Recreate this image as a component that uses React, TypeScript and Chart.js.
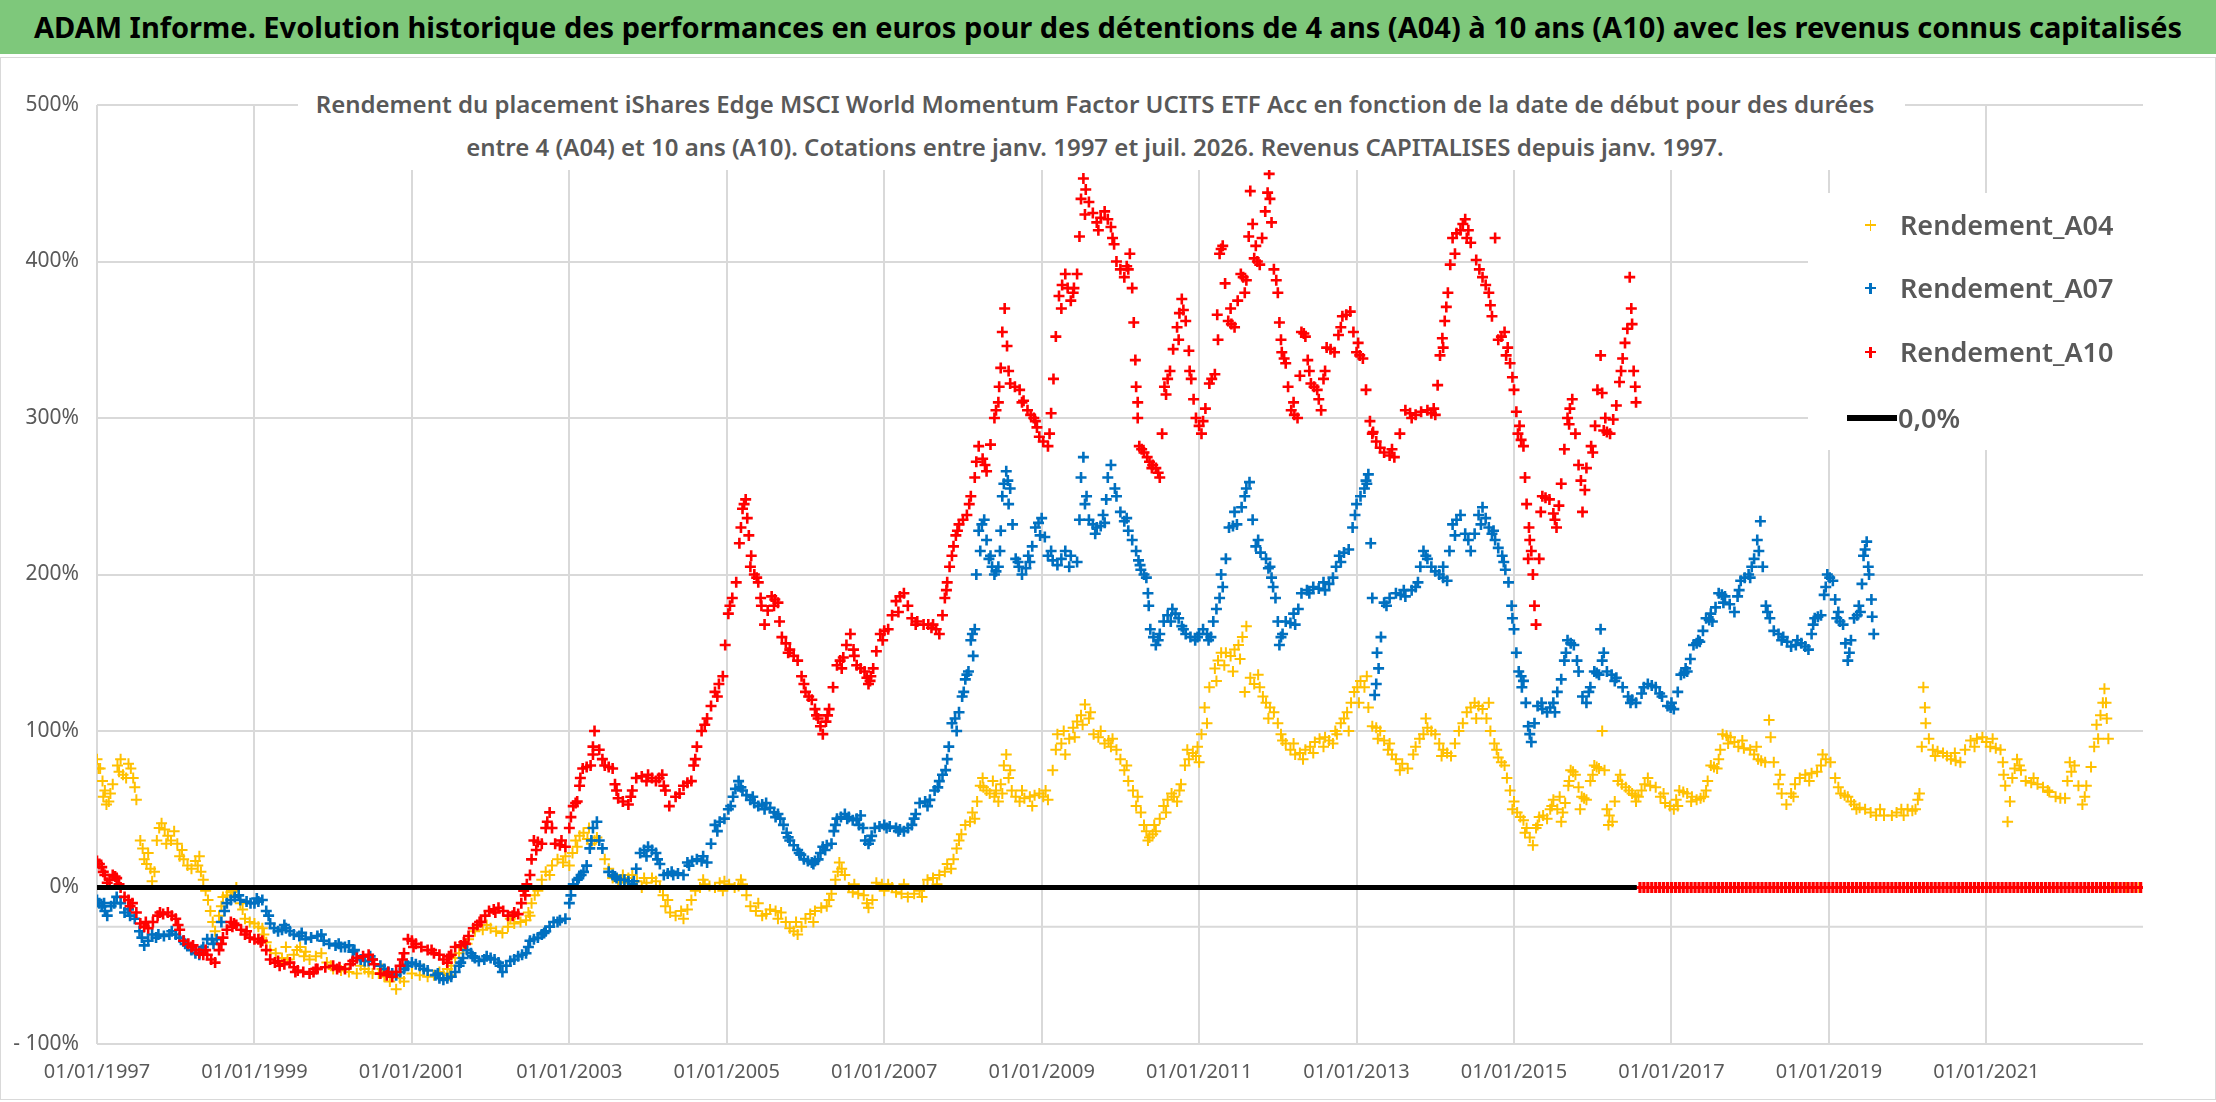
import { useEffect, useRef } from "react";
import { Chart, registerables } from "chart.js";

Chart.register(...registerables);

const FONT = "'Noto Sans', 'Open Sans', sans-serif";
const GRIS = "#595959";
const GRILLE = "#d9d9d9";

const TITRE =
  "ADAM Informe. Evolution historique des performances en euros pour des détentions de 4 ans (A04) à 10 ans (A10) avec les revenus connus capitalisés";
const SOUS_TITRE_1 =
  "Rendement du placement iShares Edge MSCI World Momentum Factor UCITS ETF Acc en fonction de la date de début pour des durées";
const SOUS_TITRE_2 =
  "entre 4 (A04) et 10 ans (A10). Cotations entre janv. 1997 et juil. 2026. Revenus CAPITALISES depuis janv. 1997.";

// axe des dates en années décimales
const X_MIN = 1997;
const X_MAX = 2022.99;
const X_TICK_YEARS = [1997, 1999, 2001, 2003, 2005, 2007, 2009, 2011, 2013, 2015, 2017, 2019, 2021];
const Y_MIN = -100;
const Y_MAX = 500;

// [date, rendement en %]
const A04: [number, number][] = [
  [1997.0, 82], [1997.04, 76], [1997.1, 62], [1997.15, 55], [1997.2, 66], [1997.26, 78], [1997.33, 72],
  [1997.4, 79], [1997.46, 70], [1997.5, 56], [1997.55, 30], [1997.6, 18], [1997.65, 22], [1997.7, 4],
  [1997.76, 30], [1997.82, 41], [1997.9, 33], [1997.98, 36], [1998.05, 20], [1998.15, 14], [1998.25, 17],
  [1998.32, 10], [1998.38, -2], [1998.44, -15], [1998.5, -28], [1998.6, -6], [1998.7, -3], [1998.77, 0],
  [1998.88, -20], [1999.0, -23], [1999.1, -26], [1999.2, -40], [1999.35, -45], [1999.5, -43], [1999.58, -38],
  [1999.7, -46], [1999.85, -42], [2000.0, -52], [2000.2, -54], [2000.4, -52], [2000.5, -55], [2000.65, -57],
  [2000.8, -65], [2001.0, -55], [2001.2, -57], [2001.35, -54], [2001.45, -52], [2001.55, -45], [2001.65, -38],
  [2001.8, -28], [2002.0, -26], [2002.15, -29], [2002.3, -23], [2002.45, -21], [2002.52, -10], [2002.6, -2],
  [2002.7, 10], [2002.85, 18], [2003.0, 14], [2003.08, 30], [2003.18, 35], [2003.28, 28], [2003.35, 32],
  [2003.55, 6], [2003.7, 3], [2003.8, 8], [2003.92, 0], [2004.05, 6], [2004.15, 0], [2004.22, -12],
  [2004.35, -18], [2004.5, -14], [2004.6, -2], [2004.72, 2], [2004.85, 0], [2004.97, 4], [2005.1, 0],
  [2005.2, 2], [2005.3, -12], [2005.45, -18], [2005.55, -14], [2005.69, -16], [2005.8, -26], [2005.9, -30],
  [2006.0, -20], [2006.12, -15], [2006.27, -12], [2006.38, 5], [2006.43, 16], [2006.5, 8], [2006.6, -3],
  [2006.74, -5], [2006.8, -13], [2006.9, 3], [2007.05, 2], [2007.15, -3], [2007.3, -6], [2007.45, -2],
  [2007.55, 5], [2007.7, 8], [2007.85, 12], [2007.92, 25], [2008.03, 40], [2008.15, 44], [2008.22, 65],
  [2008.3, 62], [2008.38, 68], [2008.45, 55], [2008.52, 78], [2008.55, 85], [2008.62, 62], [2008.72, 55],
  [2008.85, 58], [2008.97, 60], [2009.08, 56], [2009.2, 98], [2009.3, 85], [2009.4, 102], [2009.5, 110],
  [2009.55, 117], [2009.66, 98], [2009.8, 92], [2009.9, 95], [2010.0, 82], [2010.1, 68], [2010.22, 58],
  [2010.3, 40], [2010.37, 32], [2010.45, 36], [2010.55, 52], [2010.65, 60], [2010.72, 55], [2010.82, 78],
  [2010.92, 86], [2011.0, 80], [2011.07, 115], [2011.2, 140], [2011.28, 150], [2011.4, 148], [2011.5, 155],
  [2011.6, 167], [2011.65, 134], [2011.77, 128], [2011.85, 118], [2011.95, 112], [2012.0, 105], [2012.1, 92],
  [2012.22, 85], [2012.35, 88], [2012.47, 93], [2012.6, 96], [2012.7, 92], [2012.8, 105], [2012.88, 112],
  [2012.97, 125], [2013.05, 132], [2013.1, 128], [2013.2, 103], [2013.3, 100], [2013.4, 88], [2013.5, 82],
  [2013.65, 76], [2013.8, 95], [2013.9, 102], [2014.0, 98], [2014.1, 88], [2014.2, 84], [2014.4, 112],
  [2014.5, 118], [2014.6, 114], [2014.7, 100], [2014.8, 83], [2014.88, 78], [2014.95, 62], [2015.04, 48],
  [2015.12, 43], [2015.2, 32], [2015.24, 27], [2015.32, 45], [2015.42, 44], [2015.5, 56], [2015.6, 42],
  [2015.65, 54], [2015.72, 75], [2015.78, 72], [2015.86, 58], [2015.92, 56], [2016.02, 78], [2016.08, 76],
  [2016.12, 100], [2016.18, 50], [2016.25, 42], [2016.32, 68], [2016.42, 64], [2016.5, 60], [2016.58, 58],
  [2016.66, 66], [2016.8, 64], [2016.92, 54], [2017.03, 50], [2017.1, 62], [2017.2, 60], [2017.32, 56],
  [2017.41, 58], [2017.5, 78], [2017.58, 76], [2017.65, 98], [2017.75, 96], [2017.85, 90], [2018.0, 88],
  [2018.1, 82], [2018.19, 80], [2018.24, 107], [2018.36, 66], [2018.46, 53], [2018.57, 66], [2018.7, 72],
  [2018.85, 74], [2018.96, 82], [2019.02, 80], [2019.15, 60], [2019.24, 58], [2019.32, 53], [2019.46, 50],
  [2019.6, 46], [2019.8, 46], [2019.92, 50], [2020.1, 50], [2020.15, 60], [2020.2, 128], [2020.23, 105],
  [2020.32, 88], [2020.45, 86], [2020.55, 82], [2020.67, 80], [2020.8, 94], [2020.95, 96], [2021.05, 90],
  [2021.18, 88], [2021.24, 65], [2021.27, 42], [2021.33, 70], [2021.39, 82], [2021.5, 68], [2021.65, 66],
  [2021.72, 64], [2021.88, 58], [2022.0, 57], [2022.06, 80], [2022.12, 78], [2022.22, 53], [2022.33, 77],
  [2022.4, 104], [2022.45, 110], [2022.5, 127], [2022.55, 95],
  [2022.62, 0], [2022.7, 0], [2022.78, 0], [2022.86, 0], [2022.94, 0],
];

// relevés complémentaires : épaisseur du nuage de points
const A04_BIS: [number, number][] = [
  [1997.02, 76], [1997.08, 58], [1997.12, 53], [1997.3, 82], [1997.37, 70], [1997.43, 76], [1997.58, 25],
  [1997.63, 15], [1997.73, 10], [1997.79, 38], [1997.86, 37], [1997.94, 30], [1998.02, 28], [1998.1, 18],
  [1998.2, 12], [1998.28, 14], [1998.35, 5], [1998.41, -8], [1998.47, -22], [1998.55, -18], [1998.65, -5],
  [1998.73, -2], [1998.82, -10], [1998.94, -22], [1999.05, -25], [1999.15, -35], [1999.27, -42], [1999.42, -46],
  [1999.54, -40], [1999.63, -44], [1999.78, -44], [1999.92, -48], [2000.1, -53], [2000.3, -55], [2000.45, -54],
  [2000.58, -55], [2000.72, -60], [2000.9, -60], [2001.1, -56], [2001.28, -56], [2001.4, -55], [2001.5, -50],
  [2001.6, -42], [2001.72, -33], [2001.9, -27], [2002.07, -28], [2002.22, -25], [2002.38, -22], [2002.48, -16],
  [2002.56, -5], [2002.65, 5], [2002.78, 14], [2002.92, 16], [2003.04, 22], [2003.13, 33], [2003.23, 31],
  [2003.32, 30], [2003.45, 18], [2003.62, 4], [2003.75, 6], [2003.86, 4], [2003.98, 3], [2004.1, 4],
  [2004.19, -5], [2004.28, -16], [2004.42, -15], [2004.55, -8], [2004.66, 0], [2004.78, 1], [2004.91, 3],
  [2005.03, 2], [2005.15, 1], [2005.25, -5], [2005.37, -15], [2005.5, -17], [2005.62, -15], [2005.75, -22],
  [2005.85, -28], [2005.95, -25], [2006.06, -17], [2006.2, -13], [2006.33, -4], [2006.46, 12], [2006.55, 0],
  [2006.67, -4], [2006.85, -8], [2006.97, 2], [2007.1, 0], [2007.22, -4], [2007.38, -4], [2007.5, 1],
  [2007.62, 6], [2007.77, 10], [2007.88, 18], [2007.98, 34], [2008.09, 42], [2008.18, 55], [2008.26, 64],
  [2008.34, 60], [2008.42, 62], [2008.48, 66], [2008.58, 70], [2008.67, 58], [2008.78, 57], [2008.91, 59],
  [2009.02, 58], [2009.14, 75], [2009.25, 92], [2009.35, 95], [2009.45, 106], [2009.6, 108], [2009.72, 96],
  [2009.85, 94], [2009.95, 88], [2010.05, 75], [2010.16, 62], [2010.26, 48], [2010.33, 36], [2010.41, 34],
  [2010.5, 44], [2010.6, 56], [2010.68, 58], [2010.77, 66], [2010.87, 82], [2010.96, 84], [2011.03, 98],
  [2011.13, 128], [2011.24, 145], [2011.34, 150], [2011.45, 152], [2011.55, 160], [2011.7, 130], [2011.81, 122],
  [2011.9, 115], [2012.04, 98], [2012.16, 88], [2012.28, 86], [2012.41, 90], [2012.53, 95], [2012.65, 94],
  [2012.75, 98], [2012.84, 108], [2012.93, 118], [2013.01, 128], [2013.15, 115], [2013.25, 102], [2013.35, 94],
  [2013.45, 85], [2013.58, 79], [2013.72, 85], [2013.85, 98], [2013.95, 100], [2014.05, 92], [2014.15, 86],
  [2014.3, 100], [2014.45, 115], [2014.55, 116], [2014.65, 108], [2014.75, 92], [2014.84, 80], [2014.91, 70],
  [2015.0, 55], [2015.08, 45], [2015.16, 38], [2015.28, 38], [2015.37, 46], [2015.46, 50], [2015.55, 50],
  [2015.62, 48], [2015.69, 65], [2015.75, 74], [2015.82, 64], [2015.89, 57], [2015.97, 68], [2016.05, 77],
  [2016.15, 75], [2016.21, 46], [2016.28, 55], [2016.37, 66], [2016.46, 62], [2016.54, 59], [2016.62, 62],
  [2016.73, 65], [2016.86, 58], [2016.98, 52], [2017.06, 56], [2017.15, 61], [2017.26, 58], [2017.37, 57],
  [2017.46, 68], [2017.54, 77], [2017.62, 88], [2017.7, 97], [2017.8, 93], [2017.92, 89], [2018.05, 85],
  [2018.14, 81], [2018.3, 80], [2018.4, 60], [2018.52, 60], [2018.63, 70], [2018.78, 73], [2018.9, 78],
  [2019.08, 70], [2019.2, 59], [2019.28, 55], [2019.39, 51], [2019.53, 48], [2019.7, 46], [2019.86, 48],
  [2020.0, 50], [2020.06, 49], [2020.18, 90], [2020.27, 95], [2020.38, 87], [2020.5, 84], [2020.61, 81],
  [2020.73, 88], [2020.88, 95], [2021.0, 93], [2021.12, 89], [2021.21, 80], [2021.3, 55], [2021.36, 76],
  [2021.44, 75], [2021.57, 67], [2021.8, 61], [2021.94, 57], [2022.03, 68], [2022.17, 65], [2022.27, 65],
  [2022.37, 90], [2022.48, 118], [2022.53, 108],
];

// bords du nuage relevés à part
const A04_TER: [number, number][] = [
  [1997.07, 68], [1997.17, 60], [1997.28, 74], [1997.48, 64], [1997.68, 12], [1997.88, 28], [1998.08, 24],
  [1998.3, 20], [1998.58, -12], [1998.85, -14], [1999.12, -30], [1999.4, -38], [1999.65, -41], [1999.97, -50],
  [2000.35, -50], [2000.62, -52], [2000.85, -58], [2001.15, -52], [2001.48, -56], [2001.7, -36], [2001.95, -24],
  [2002.25, -20], [2002.5, -18], [2002.75, 8], [2002.95, 20], [2003.1, 26], [2003.25, 38], [2003.5, 12],
  [2003.68, 8], [2003.95, 6], [2004.25, -8], [2004.45, -20], [2004.7, 5], [2004.95, -2], [2005.18, 5],
  [2005.4, -10], [2005.65, -20], [2005.88, -22], [2006.1, -22], [2006.3, -8], [2006.41, 10], [2006.62, 2],
  [2006.78, -10], [2007.0, -2], [2007.25, 2], [2007.48, -6], [2007.67, 2], [2007.8, 15], [2007.95, 30],
  [2008.12, 48], [2008.25, 70], [2008.4, 58], [2008.5, 60], [2008.6, 75], [2008.75, 62], [2008.88, 52],
  [2009.05, 62], [2009.18, 88], [2009.28, 100], [2009.42, 96], [2009.52, 104], [2009.62, 112], [2009.75, 100],
  [2009.88, 90], [2010.08, 78], [2010.2, 52], [2010.35, 30], [2010.43, 40], [2010.58, 48], [2010.75, 62],
  [2010.85, 88], [2010.98, 90], [2011.1, 105], [2011.22, 132], [2011.32, 142], [2011.43, 138], [2011.52, 146],
  [2011.58, 125], [2011.75, 136], [2011.88, 108], [2012.06, 94], [2012.2, 92], [2012.32, 82], [2012.45, 86],
  [2012.58, 90], [2012.73, 100], [2012.9, 100], [2013.03, 118], [2013.13, 135], [2013.27, 95], [2013.42, 92],
  [2013.55, 75], [2013.75, 90], [2013.88, 108], [2014.08, 84], [2014.25, 92], [2014.35, 105], [2014.52, 108],
  [2014.68, 118], [2014.78, 88], [2014.98, 50], [2015.14, 35], [2015.3, 40], [2015.48, 52], [2015.58, 58],
  [2015.7, 68], [2015.84, 50], [2016.0, 72], [2016.2, 40], [2016.35, 72], [2016.55, 55], [2016.7, 70],
  [2016.9, 60], [2017.08, 52], [2017.25, 55], [2017.44, 62], [2017.6, 82], [2017.72, 92], [2017.9, 94],
  [2018.08, 90], [2018.26, 96], [2018.38, 72], [2018.55, 58], [2018.75, 68], [2018.92, 85], [2019.12, 64],
  [2019.35, 50], [2019.65, 50], [2019.95, 46], [2020.13, 56], [2020.22, 115], [2020.35, 84], [2020.6, 86],
  [2020.85, 90], [2021.08, 95], [2021.22, 72], [2021.42, 78], [2021.6, 70], [2021.78, 62], [2022.08, 74],
  [2022.25, 58], [2022.42, 95], [2022.52, 118],
];

const A07: [number, number][] = [
  [1997.0, -8], [1997.06, -12], [1997.13, -18], [1997.25, -6], [1997.35, -16], [1997.48, -20], [1997.6, -37],
  [1997.7, -30], [1997.85, -31], [1998.0, -30], [1998.1, -34], [1998.2, -40], [1998.3, -43], [1998.4, -33],
  [1998.52, -33], [1998.65, -10], [1998.75, -6], [1998.9, -9], [1999.0, -10], [1999.1, -8], [1999.2, -23],
  [1999.3, -28], [1999.4, -26], [1999.5, -30], [1999.65, -33], [1999.8, -31], [1999.95, -36], [2000.1, -38],
  [2000.2, -37], [2000.3, -45], [2000.4, -47], [2000.5, -46], [2000.7, -54], [2000.8, -56], [2000.9, -52],
  [2001.0, -48], [2001.1, -50], [2001.3, -56], [2001.4, -59], [2001.5, -57], [2001.6, -50], [2001.7, -40],
  [2001.75, -42], [2001.85, -47], [2002.0, -45], [2002.1, -48], [2002.15, -54], [2002.35, -44], [2002.45, -42],
  [2002.5, -34], [2002.6, -32], [2002.7, -28], [2002.8, -22], [2002.95, -20], [2003.05, 2], [2003.15, 8],
  [2003.22, 14], [2003.3, 38], [2003.35, 42], [2003.5, 10], [2003.6, 6], [2003.7, 5], [2003.8, 2],
  [2003.9, 22], [2004.0, 26], [2004.1, 22], [2004.2, 8], [2004.3, 10], [2004.45, 8], [2004.5, 16],
  [2004.62, 18], [2004.75, 16], [2004.85, 40], [2004.97, 44], [2005.08, 58], [2005.15, 68], [2005.2, 62],
  [2005.3, 56], [2005.4, 52], [2005.5, 54], [2005.6, 48], [2005.65, 47], [2005.72, 40], [2005.8, 30],
  [2005.9, 24], [2005.98, 18], [2006.08, 16], [2006.16, 18], [2006.22, 26], [2006.33, 28], [2006.4, 44],
  [2006.5, 47], [2006.6, 43], [2006.7, 46], [2006.76, 30], [2006.8, 28], [2006.88, 38], [2007.0, 40],
  [2007.15, 38], [2007.25, 36], [2007.35, 40], [2007.45, 54], [2007.58, 56], [2007.7, 68], [2007.78, 75],
  [2007.86, 105], [2007.95, 112], [2008.03, 133], [2008.07, 138], [2008.1, 158], [2008.15, 165], [2008.2, 228],
  [2008.27, 235], [2008.33, 210], [2008.4, 200], [2008.45, 205], [2008.5, 250], [2008.55, 266], [2008.6, 255],
  [2008.67, 210], [2008.75, 200], [2008.85, 208], [2008.92, 230], [2009.0, 236], [2009.08, 212], [2009.2, 206],
  [2009.3, 215], [2009.45, 208], [2009.5, 262], [2009.53, 275], [2009.6, 235], [2009.7, 230], [2009.8, 233],
  [2009.84, 262], [2009.88, 270], [2010.0, 240], [2010.1, 228], [2010.2, 215], [2010.26, 203], [2010.33, 198],
  [2010.38, 165], [2010.45, 155], [2010.55, 170], [2010.66, 178], [2010.74, 172], [2010.83, 162], [2010.95, 158],
  [2011.05, 165], [2011.15, 160], [2011.22, 178], [2011.3, 192], [2011.38, 230], [2011.48, 232], [2011.6, 255],
  [2011.64, 259], [2011.72, 218], [2011.85, 210], [2011.92, 198], [2011.97, 185], [2012.02, 155], [2012.1, 170],
  [2012.22, 168], [2012.3, 188], [2012.45, 192], [2012.6, 190], [2012.7, 198], [2012.78, 212], [2012.9, 216],
  [2013.0, 245], [2013.1, 255], [2013.15, 264], [2013.2, 185], [2013.23, 123], [2013.28, 140], [2013.35, 182],
  [2013.5, 188], [2013.62, 186], [2013.78, 195], [2013.85, 215], [2013.95, 205], [2014.05, 200], [2014.15, 196],
  [2014.22, 232], [2014.32, 238], [2014.45, 215], [2014.55, 238], [2014.6, 243], [2014.68, 230], [2014.76, 222],
  [2014.85, 212], [2014.93, 195], [2015.0, 165], [2015.06, 138], [2015.12, 132], [2015.18, 103], [2015.22, 93],
  [2015.3, 116], [2015.42, 112], [2015.5, 118], [2015.6, 133], [2015.68, 158], [2015.76, 155], [2015.87, 122],
  [2015.92, 118], [2016.02, 138], [2016.08, 136], [2016.1, 165], [2016.18, 138], [2016.3, 134], [2016.45, 122],
  [2016.55, 118], [2016.7, 130], [2016.8, 128], [2016.95, 116], [2017.03, 114], [2017.12, 136], [2017.2, 138],
  [2017.28, 155], [2017.36, 157], [2017.44, 172], [2017.52, 170], [2017.6, 188], [2017.68, 186], [2017.8, 176],
  [2017.88, 196], [2017.98, 200], [2018.05, 210], [2018.13, 234], [2018.2, 180], [2018.3, 164], [2018.42, 160],
  [2018.52, 154], [2018.65, 156], [2018.74, 152], [2018.82, 172], [2018.9, 174], [2018.98, 200], [2019.05, 196],
  [2019.1, 172], [2019.18, 168], [2019.24, 145], [2019.32, 172], [2019.4, 176], [2019.44, 212], [2019.48, 221],
  [2019.54, 184], [2019.57, 162],
];

const A07_BIS: [number, number][] = [
  [1997.03, -10], [1997.1, -15], [1997.18, -12], [1997.3, -10], [1997.42, -18], [1997.54, -28], [1997.65, -34],
  [1997.78, -30], [1997.92, -30], [1998.05, -32], [1998.15, -37], [1998.25, -42], [1998.35, -38], [1998.46, -33],
  [1998.58, -22], [1998.7, -8], [1998.82, -8], [1998.95, -10], [1999.05, -9], [1999.15, -15], [1999.25, -26],
  [1999.35, -27], [1999.45, -28], [1999.57, -31], [1999.72, -32], [1999.88, -34], [2000.03, -37], [2000.15, -38],
  [2000.25, -41], [2000.35, -46], [2000.45, -47], [2000.6, -50], [2000.75, -55], [2000.85, -54], [2000.95, -50],
  [2001.05, -49], [2001.2, -53], [2001.35, -58], [2001.45, -58], [2001.55, -54], [2001.65, -45], [2001.8, -45],
  [2001.92, -46], [2002.05, -46], [2002.2, -50], [2002.3, -46], [2002.4, -43], [2002.55, -33], [2002.65, -30],
  [2002.75, -25], [2002.88, -21], [2003.0, -10], [2003.1, 5], [2003.18, 10], [2003.26, 25], [2003.42, 25],
  [2003.55, 8], [2003.65, 5], [2003.75, 4], [2003.85, 12], [2003.95, 24], [2004.05, 24], [2004.15, 15],
  [2004.25, 9], [2004.38, 9], [2004.56, 17], [2004.68, 17], [2004.8, 28], [2004.91, 42], [2005.02, 50],
  [2005.11, 63], [2005.25, 59], [2005.35, 54], [2005.45, 53], [2005.55, 51], [2005.68, 44], [2005.76, 35],
  [2005.85, 27], [2005.94, 21], [2006.03, 17], [2006.12, 17], [2006.19, 22], [2006.27, 27], [2006.36, 36],
  [2006.45, 45], [2006.55, 45], [2006.65, 44], [2006.73, 38], [2006.84, 33], [2006.94, 39], [2007.07, 39],
  [2007.2, 37], [2007.3, 38], [2007.4, 47], [2007.52, 55], [2007.64, 62], [2007.74, 72], [2007.82, 90],
  [2007.9, 108], [2007.99, 122], [2008.05, 136], [2008.12, 162], [2008.17, 200], [2008.24, 232], [2008.3, 222],
  [2008.37, 205], [2008.42, 202], [2008.48, 228], [2008.52, 258], [2008.57, 260], [2008.63, 232], [2008.71, 205],
  [2008.8, 204], [2008.88, 218], [2008.96, 233], [2009.04, 224], [2009.14, 209], [2009.25, 210], [2009.37, 212],
  [2009.48, 235], [2009.57, 250], [2009.65, 232], [2009.75, 231], [2009.82, 248], [2009.93, 255], [2010.05, 234],
  [2010.15, 222], [2010.23, 209], [2010.3, 200], [2010.36, 180], [2010.42, 160], [2010.5, 162], [2010.6, 174],
  [2010.7, 175], [2010.78, 167], [2010.89, 160], [2011.0, 162], [2011.1, 162], [2011.18, 170], [2011.26, 185],
  [2011.34, 210], [2011.43, 231], [2011.54, 243], [2011.68, 235], [2011.78, 214], [2011.88, 204], [2011.94, 192],
  [2012.0, 170], [2012.06, 162], [2012.16, 169], [2012.26, 178], [2012.37, 190], [2012.52, 191], [2012.65, 194],
  [2012.74, 205], [2012.84, 214], [2012.95, 230], [2013.05, 250], [2013.12, 260], [2013.18, 220], [2013.25, 130],
  [2013.31, 160], [2013.42, 185], [2013.56, 187], [2013.7, 190], [2013.81, 205], [2013.9, 210], [2014.0, 202],
  [2014.1, 198], [2014.18, 215], [2014.27, 235], [2014.38, 226], [2014.5, 226], [2014.64, 236], [2014.72, 226],
  [2014.8, 217], [2014.89, 203], [2014.97, 180], [2015.03, 150], [2015.09, 135], [2015.15, 118], [2015.26, 105],
  [2015.36, 114], [2015.46, 115], [2015.55, 125], [2015.64, 145], [2015.72, 156], [2015.82, 138], [2015.97, 128],
  [2016.05, 137], [2016.14, 150], [2016.24, 136], [2016.38, 128], [2016.5, 120], [2016.62, 124], [2016.75, 129],
  [2016.88, 122], [2016.99, 115], [2017.08, 125], [2017.16, 137], [2017.24, 146], [2017.32, 156], [2017.4, 164],
  [2017.48, 171], [2017.56, 179], [2017.64, 187], [2017.74, 181], [2017.84, 186], [2017.93, 198], [2018.02, 205],
  [2018.09, 222], [2018.16, 205], [2018.25, 172], [2018.36, 162], [2018.47, 157], [2018.58, 155], [2018.7, 154],
  [2018.78, 162], [2018.86, 173], [2018.94, 187], [2019.01, 198], [2019.08, 184], [2019.14, 170], [2019.21, 156],
  [2019.28, 158], [2019.36, 174], [2019.42, 194], [2019.46, 216], [2019.51, 200], [2019.55, 173],
];

const A07_TER: [number, number][] = [
  [1997.09, -10], [1997.22, -10], [1997.4, -14], [1997.57, -32], [1997.75, -32], [1997.95, -28], [1998.12, -36],
  [1998.33, -40], [1998.48, -36], [1998.62, -15], [1998.8, -5], [1999.03, -7], [1999.18, -18], [1999.38, -24],
  [1999.6, -29], [1999.85, -30], [2000.07, -36], [2000.27, -40], [2000.47, -44], [2000.65, -52], [2000.92, -50],
  [2001.15, -52], [2001.33, -55], [2001.62, -48], [2001.77, -44], [2001.95, -44], [2002.12, -50], [2002.25, -47],
  [2002.48, -38], [2002.68, -29], [2002.85, -22], [2003.02, -5], [2003.12, 6], [2003.28, 30], [2003.38, 30],
  [2003.58, 7], [2003.82, 4], [2003.98, 20], [2004.12, 18], [2004.32, 8], [2004.52, 14], [2004.7, 20],
  [2004.88, 36], [2005.05, 52], [2005.18, 64], [2005.33, 58], [2005.48, 50], [2005.62, 45], [2005.78, 32],
  [2005.92, 22], [2006.1, 15], [2006.25, 24], [2006.38, 40], [2006.53, 44], [2006.68, 40], [2006.82, 30],
  [2007.03, 38], [2007.18, 36], [2007.38, 44], [2007.55, 52], [2007.68, 64], [2007.8, 82], [2007.92, 100],
  [2008.01, 125], [2008.13, 148], [2008.22, 215], [2008.35, 212], [2008.47, 215], [2008.58, 245], [2008.7, 208],
  [2008.83, 212], [2008.98, 225], [2009.12, 215], [2009.35, 205], [2009.55, 245], [2009.68, 226], [2009.78, 238],
  [2009.95, 250], [2010.08, 236], [2010.25, 206], [2010.35, 188], [2010.48, 158], [2010.64, 170], [2010.8, 165],
  [2010.98, 160], [2011.12, 158], [2011.28, 200], [2011.45, 240], [2011.58, 250], [2011.75, 222], [2011.9, 205],
  [2012.04, 160], [2012.2, 175], [2012.4, 188], [2012.58, 195], [2012.8, 208], [2012.98, 238], [2013.13, 258],
  [2013.26, 150], [2013.38, 180], [2013.6, 190], [2013.75, 192], [2013.88, 212], [2014.1, 205], [2014.25, 225],
  [2014.42, 222], [2014.58, 232], [2014.74, 228], [2014.87, 208], [2014.98, 172], [2015.1, 128], [2015.2, 98],
  [2015.35, 118], [2015.52, 112], [2015.66, 150], [2015.8, 145], [2015.95, 125], [2016.12, 145], [2016.28, 132],
  [2016.48, 118], [2016.65, 128], [2016.85, 124], [2017.0, 118], [2017.18, 140], [2017.34, 158], [2017.5, 175],
  [2017.66, 182], [2017.86, 190], [2018.0, 198], [2018.11, 215], [2018.22, 176], [2018.4, 158], [2018.6, 158],
  [2018.8, 168], [2018.96, 192], [2019.12, 176], [2019.26, 150], [2019.38, 180], [2019.5, 205],
];

const A10: [number, number][] = [
  [1997.0, 17], [1997.06, 13], [1997.13, 3], [1997.2, 8], [1997.25, 6], [1997.35, -6], [1997.45, -10],
  [1997.55, -23], [1997.65, -26], [1997.77, -18], [1997.9, -16], [1998.0, -20], [1998.1, -34], [1998.22, -37],
  [1998.3, -42], [1998.4, -43], [1998.5, -48], [1998.6, -32], [1998.7, -22], [1998.77, -24], [1998.88, -30],
  [1999.0, -33], [1999.1, -34], [1999.2, -46], [1999.32, -50], [1999.45, -48], [1999.55, -53], [1999.7, -55],
  [1999.8, -52], [2000.0, -50], [2000.15, -52], [2000.3, -45], [2000.45, -43], [2000.6, -55], [2000.75, -57],
  [2000.85, -50], [2000.95, -33], [2001.05, -36], [2001.2, -40], [2001.35, -43], [2001.45, -48], [2001.55, -38],
  [2001.68, -36], [2001.78, -26], [2001.88, -22], [2001.98, -15], [2002.1, -13], [2002.22, -18], [2002.35, -17],
  [2002.42, -2], [2002.5, 8], [2002.55, 30], [2002.65, 28], [2002.75, 48], [2002.82, 28], [2002.95, 26],
  [2003.05, 52], [2003.1, 55], [2003.17, 76], [2003.27, 78], [2003.32, 100], [2003.45, 78], [2003.55, 76],
  [2003.62, 57], [2003.75, 53], [2003.85, 70], [2004.0, 72], [2004.1, 68], [2004.18, 72], [2004.27, 52],
  [2004.45, 65], [2004.55, 68], [2004.62, 90], [2004.75, 108], [2004.85, 125], [2004.95, 135], [2005.02, 175],
  [2005.12, 195], [2005.2, 242], [2005.24, 248], [2005.28, 225], [2005.35, 200], [2005.4, 195], [2005.48, 168],
  [2005.57, 186], [2005.65, 182], [2005.7, 160], [2005.8, 152], [2005.9, 145], [2006.0, 125], [2006.08, 120],
  [2006.16, 108], [2006.22, 98], [2006.3, 114], [2006.4, 142], [2006.48, 147], [2006.57, 162], [2006.65, 142],
  [2006.75, 138], [2006.8, 130], [2006.86, 140], [2006.95, 162], [2007.05, 165], [2007.15, 183], [2007.25, 188],
  [2007.35, 172], [2007.5, 168], [2007.62, 168], [2007.7, 162], [2007.77, 185], [2007.83, 205], [2007.88, 218],
  [2007.95, 232], [2008.05, 238], [2008.15, 262], [2008.2, 282], [2008.3, 266], [2008.4, 300], [2008.45, 310],
  [2008.5, 355], [2008.53, 370], [2008.6, 322], [2008.72, 318], [2008.82, 305], [2008.9, 300], [2008.97, 288],
  [2009.08, 282], [2009.15, 325], [2009.22, 378], [2009.3, 392], [2009.37, 375], [2009.45, 392], [2009.5, 440],
  [2009.53, 453], [2009.6, 438], [2009.7, 425], [2009.8, 432], [2009.88, 422], [2009.95, 400], [2010.05, 390],
  [2010.12, 405], [2010.17, 361], [2010.19, 337], [2010.2, 320], [2010.24, 282], [2010.3, 278], [2010.37, 272],
  [2010.45, 268], [2010.5, 262], [2010.56, 320], [2010.63, 330], [2010.72, 358], [2010.78, 376], [2010.83, 362],
  [2010.9, 325], [2010.96, 300], [2011.03, 290], [2011.13, 322], [2011.2, 328], [2011.26, 405], [2011.3, 410],
  [2011.37, 362], [2011.45, 358], [2011.53, 392], [2011.6, 388], [2011.65, 445], [2011.7, 402], [2011.77, 398],
  [2011.84, 432], [2011.89, 456], [2011.95, 395], [2012.0, 380], [2012.05, 342], [2012.1, 335], [2012.17, 305],
  [2012.25, 300], [2012.3, 355], [2012.35, 352], [2012.42, 322], [2012.5, 318], [2012.55, 305], [2012.62, 345],
  [2012.72, 342], [2012.82, 365], [2012.92, 368], [2013.0, 342], [2013.08, 338], [2013.17, 298], [2013.25, 285],
  [2013.35, 278], [2013.48, 275], [2013.62, 305], [2013.75, 302], [2013.9, 305], [2014.0, 302], [2014.06, 340],
  [2014.12, 362], [2014.16, 380], [2014.22, 415], [2014.32, 420], [2014.38, 427], [2014.45, 412], [2014.6, 390],
  [2014.68, 380], [2014.76, 415], [2014.8, 350], [2014.88, 355], [2014.95, 335], [2015.0, 318], [2015.05, 290],
  [2015.12, 282], [2015.16, 245], [2015.18, 210], [2015.2, 222], [2015.24, 200], [2015.26, 180], [2015.28, 168],
  [2015.36, 250], [2015.45, 248], [2015.54, 230], [2015.6, 258], [2015.68, 300], [2015.74, 312], [2015.82, 270],
  [2015.87, 240], [2015.92, 268], [2016.03, 295], [2016.1, 340], [2016.14, 292], [2016.22, 290], [2016.3, 308],
  [2016.38, 338], [2016.44, 357], [2016.47, 390], [2016.52, 330], [2016.55, 310],
];

const A10_BIS: [number, number][] = [
  [1997.03, 15], [1997.1, 8], [1997.16, 5], [1997.23, 7], [1997.3, 0], [1997.4, -8], [1997.5, -16],
  [1997.6, -25], [1997.71, -22], [1997.84, -17], [1997.95, -18], [1998.05, -27], [1998.16, -36], [1998.26, -40],
  [1998.35, -43], [1998.45, -46], [1998.55, -40], [1998.65, -27], [1998.74, -23], [1998.83, -27], [1998.94, -32],
  [1999.05, -33], [1999.15, -40], [1999.26, -48], [1999.38, -49], [1999.5, -51], [1999.62, -54], [1999.75, -54],
  [1999.9, -51], [2000.08, -51], [2000.22, -49], [2000.38, -44], [2000.52, -49], [2000.68, -56], [2000.8, -54],
  [2000.9, -42], [2001.0, -34], [2001.12, -38], [2001.28, -42], [2001.4, -46], [2001.5, -43], [2001.62, -37],
  [2001.72, -31], [2001.83, -24], [2001.93, -18], [2002.04, -14], [2002.16, -15], [2002.28, -18], [2002.39, -10],
  [2002.46, 2], [2002.52, 18], [2002.6, 29], [2002.7, 38], [2002.78, 38], [2002.88, 27], [2003.0, 38],
  [2003.08, 54], [2003.13, 65], [2003.22, 77], [2003.3, 90], [2003.38, 88], [2003.5, 77], [2003.58, 66],
  [2003.68, 55], [2003.8, 62], [2003.92, 71], [2004.05, 70], [2004.14, 70], [2004.22, 62], [2004.35, 58],
  [2004.5, 67], [2004.58, 78], [2004.68, 100], [2004.8, 116], [2004.9, 130], [2004.98, 155], [2005.07, 185],
  [2005.16, 220], [2005.22, 245], [2005.26, 236], [2005.31, 212], [2005.38, 198], [2005.44, 180], [2005.52, 177],
  [2005.61, 184], [2005.67, 170], [2005.75, 156], [2005.85, 148], [2005.95, 135], [2006.04, 122], [2006.12, 114],
  [2006.19, 103], [2006.26, 106], [2006.35, 128], [2006.44, 145], [2006.52, 155], [2006.61, 152], [2006.7, 140],
  [2006.78, 134], [2006.83, 135], [2006.9, 151], [2007.0, 164], [2007.1, 174], [2007.2, 186], [2007.3, 180],
  [2007.42, 170], [2007.56, 168], [2007.66, 165], [2007.74, 174], [2007.8, 195], [2007.86, 212], [2007.91, 225],
  [2008.0, 235], [2008.1, 250], [2008.17, 272], [2008.25, 274], [2008.35, 283], [2008.42, 305], [2008.48, 332],
  [2008.56, 346], [2008.66, 320], [2008.77, 311], [2008.86, 302], [2008.94, 294], [2009.02, 285], [2009.12, 303],
  [2009.18, 352], [2009.26, 385], [2009.33, 383], [2009.41, 383], [2009.48, 416], [2009.56, 446], [2009.65, 431],
  [2009.75, 428], [2009.84, 427], [2009.92, 411], [2010.0, 395], [2010.08, 397], [2010.15, 383], [2010.22, 300],
  [2010.27, 280], [2010.34, 275], [2010.41, 270], [2010.48, 265], [2010.53, 290], [2010.6, 325], [2010.67, 344],
  [2010.75, 367], [2010.8, 369], [2010.87, 343], [2010.93, 312], [2011.0, 295], [2011.08, 306], [2011.16, 325],
  [2011.23, 366], [2011.28, 408], [2011.33, 386], [2011.41, 360], [2011.49, 375], [2011.56, 390], [2011.63, 416],
  [2011.68, 424], [2011.74, 400], [2011.8, 415], [2011.87, 444], [2011.92, 425], [2011.98, 388], [2012.02, 361],
  [2012.08, 338], [2012.13, 320], [2012.21, 302], [2012.28, 327], [2012.33, 354], [2012.38, 337], [2012.46, 320],
  [2012.52, 312], [2012.58, 325], [2012.67, 344], [2012.77, 353], [2012.87, 366], [2012.96, 355], [2013.04, 340],
  [2013.12, 318], [2013.21, 291], [2013.3, 281], [2013.42, 276], [2013.55, 290], [2013.68, 303], [2013.82, 304],
  [2013.95, 303], [2014.03, 321], [2014.09, 351], [2014.14, 371], [2014.19, 398], [2014.27, 418], [2014.35, 424],
  [2014.42, 420], [2014.52, 401], [2014.64, 385], [2014.72, 365], [2014.84, 352], [2014.92, 345], [2014.98, 326],
  [2015.03, 304], [2015.09, 286], [2015.14, 262], [2015.22, 215], [2015.32, 210], [2015.4, 249], [2015.5, 239],
  [2015.57, 244], [2015.64, 280], [2015.71, 306], [2015.78, 290], [2015.9, 254], [2015.98, 282], [2016.06, 318],
  [2016.12, 316], [2016.18, 291], [2016.26, 299], [2016.34, 323], [2016.41, 348], [2016.5, 360], [2016.54, 320],
];

const A10_TER: [number, number][] = [
  [1997.08, 10], [1997.28, 2], [1997.42, -12], [1997.62, -22], [1997.8, -16], [1998.03, -24], [1998.2, -38],
  [1998.38, -40], [1998.58, -36], [1998.72, -25], [1998.9, -28], [1999.08, -35], [1999.3, -47], [1999.52, -54],
  [1999.78, -52], [2000.05, -52], [2000.25, -47], [2000.5, -46], [2000.7, -54], [2000.88, -46], [2001.02, -38],
  [2001.25, -40], [2001.47, -44], [2001.66, -35], [2001.86, -22], [2002.06, -16], [2002.3, -16], [2002.44, -5],
  [2002.58, 24], [2002.72, 42], [2002.9, 30], [2003.02, 45], [2003.14, 70], [2003.3, 85], [2003.42, 82],
  [2003.6, 62], [2003.78, 58], [2003.98, 68], [2004.2, 65], [2004.4, 60], [2004.6, 82], [2004.72, 104],
  [2004.88, 122], [2005.04, 180], [2005.18, 230], [2005.3, 205], [2005.43, 185], [2005.6, 180], [2005.78, 150],
  [2005.98, 130], [2006.14, 110], [2006.28, 110], [2006.46, 140], [2006.62, 148], [2006.82, 132], [2006.98, 158],
  [2007.18, 176], [2007.4, 168], [2007.6, 166], [2007.79, 190], [2007.93, 228], [2008.08, 245], [2008.28, 270],
  [2008.46, 320], [2008.58, 330], [2008.75, 310], [2008.92, 298], [2009.1, 290], [2009.25, 370], [2009.4, 380],
  [2009.55, 430], [2009.72, 420], [2009.9, 415], [2010.1, 395], [2010.22, 310], [2010.4, 268], [2010.58, 315],
  [2010.74, 350], [2010.88, 330], [2011.05, 298], [2011.24, 350], [2011.4, 370], [2011.58, 380], [2011.72, 410],
  [2011.9, 440], [2012.04, 350], [2012.2, 310], [2012.4, 330], [2012.6, 330], [2012.8, 358], [2013.02, 348],
  [2013.2, 290], [2013.45, 280], [2013.7, 300], [2013.98, 306], [2014.1, 345], [2014.25, 405], [2014.4, 415],
  [2014.56, 395], [2014.7, 372], [2014.9, 340], [2015.07, 295], [2015.19, 230], [2015.34, 240], [2015.52, 235],
  [2015.7, 296], [2015.85, 260], [2016.0, 278], [2016.16, 300], [2016.36, 330], [2016.49, 370],
];

// A10 vaut 0 après juillet 2016 (durée de 10 ans non disponible)
const A10_ZERO_DATES = [
  2016.6, 2016.65, 2016.7, 2016.75, 2016.8, 2016.85, 2016.9, 2016.95,
  2017.0, 2017.05, 2017.1, 2017.15, 2017.2, 2017.25, 2017.3, 2017.35, 2017.4, 2017.45,
  2017.5, 2017.55, 2017.6, 2017.65, 2017.7, 2017.75, 2017.8, 2017.85, 2017.9, 2017.95,
  2018.0, 2018.05, 2018.1, 2018.15, 2018.2, 2018.25, 2018.3, 2018.35, 2018.4, 2018.45,
  2018.5, 2018.55, 2018.6, 2018.65, 2018.7, 2018.75, 2018.8, 2018.85, 2018.9, 2018.95,
  2019.0, 2019.05, 2019.1, 2019.15, 2019.2, 2019.25, 2019.3, 2019.35, 2019.4, 2019.45,
  2019.5, 2019.55, 2019.6, 2019.65, 2019.7, 2019.75, 2019.8, 2019.85, 2019.9, 2019.95,
  2020.0, 2020.05, 2020.1, 2020.15, 2020.2, 2020.25, 2020.3, 2020.35, 2020.4, 2020.45,
  2020.5, 2020.55, 2020.6, 2020.65, 2020.7, 2020.75, 2020.8, 2020.85, 2020.9, 2020.95,
  2021.0, 2021.05, 2021.1, 2021.15, 2021.2, 2021.25, 2021.3, 2021.35, 2021.4, 2021.45,
  2021.5, 2021.55, 2021.6, 2021.65, 2021.7, 2021.75, 2021.8, 2021.85, 2021.9, 2021.95,
  2022.0, 2022.05, 2022.1, 2022.15, 2022.2, 2022.25, 2022.3, 2022.35, 2022.4, 2022.45,
  2022.5, 2022.55, 2022.6, 2022.65, 2022.7, 2022.75, 2022.8, 2022.85, 2022.9, 2022.96,
];

const LIGNE_ZERO_FIN = 2016.56;
const LIGNE_GRISE_Y = -25;

const pts = (arr: [number, number][]) => arr.map(([x, y]) => ({ x, y }));

function Croix({ color, thin }: { color: string; thin?: boolean }) {
  const w = thin ? 1.6 : 2.2;
  return (
    <div style={{ position: "relative", width: 11, height: 11 }}>
      <div style={{ position: "absolute", left: 0, top: 5.5 - w / 2, width: 11, height: w, background: color }} />
      <div style={{ position: "absolute", left: 5.5 - w / 2, top: 0, width: w, height: 11, background: color }} />
    </div>
  );
}

function App() {
  const canvasRef = useRef<HTMLCanvasElement | null>(null);
  const chartRef = useRef<Chart | null>(null);

  useEffect(() => {
    if (!canvasRef.current) return;
    const croix = (color: string, width: number, order: number) => ({
      pointStyle: "cross" as const,
      pointRadius: 5.5,
      pointBorderWidth: width,
      borderWidth: width,
      borderColor: color,
      backgroundColor: color,
      pointBorderColor: color,
      showLine: false,
      order,
    });

    chartRef.current = new Chart(canvasRef.current, {
      type: "scatter",
      data: {
        datasets: [
          {
            label: "0,0%",
            data: [{ x: X_MIN, y: 0 }, { x: LIGNE_ZERO_FIN, y: 0 }],
            showLine: true,
            borderColor: "#000000",
            borderWidth: 5,
            pointRadius: 0,
            order: 0,
          },
          {
            label: "Rendement_A10",
            data: [...pts(A10), ...pts(A10_BIS), ...pts(A10_TER)],
            ...croix("#ff0000", 2.6, 1),
          },
          { label: "Rendement_A10 (0)", data: A10_ZERO_DATES.map((x) => ({ x, y: 0 })), ...croix("#ff0000", 3.2, 1) },
          {
            label: "Rendement_A07",
            data: [...pts(A07), ...pts(A07_BIS), ...pts(A07_TER)],
            ...croix("#0070c0", 2.6, 2),
          },
          {
            label: "Rendement_A04",
            data: [...pts(A04), ...pts(A04_BIS), ...pts(A04_TER)],
            ...croix("#ffc000", 2, 3),
          },
          {
            label: "",
            data: [{ x: X_MIN, y: LIGNE_GRISE_Y }, { x: X_MAX, y: LIGNE_GRISE_Y }],
            showLine: true,
            borderColor: GRILLE,
            borderWidth: 2,
            pointRadius: 0,
            order: 5,
          },
        ],
      },
      options: {
        animation: false,
        responsive: false,
        events: [],
        layout: { padding: { top: 105, right: 73, bottom: 0, left: 0 } },
        plugins: {
          legend: { display: false },
          tooltip: { enabled: false },
          title: { display: false },
        },
        scales: {
          x: {
            type: "linear",
            min: X_MIN,
            max: X_MAX,
            afterBuildTicks: (scale) => {
              scale.ticks = X_TICK_YEARS.map((v) => ({ value: v }));
            },
            afterFit: (scale) => {
              scale.height = 58;
            },
            grid: { color: GRILLE, lineWidth: 2, drawTicks: false },
            border: { display: false },
            ticks: {
              autoSkip: false,
              maxRotation: 0,
              padding: 16,
              color: GRIS,
              font: { family: FONT, size: 20 },
              callback: (v) => "01/01/" + v,
            },
          },
          y: {
            min: Y_MIN,
            max: Y_MAX,
            afterFit: (scale) => {
              scale.width = 97;
            },
            grid: { color: GRILLE, lineWidth: 2, drawTicks: false },
            border: { display: false },
            ticks: {
              stepSize: 100,
              padding: 18,
              color: GRIS,
              font: { family: FONT, size: 21 },
              callback: (v) => (Number(v) < 0 ? "- " + Math.abs(Number(v)) + "%" : v + "%"),
            },
          },
        },
      },
    });

    return () => {
      if (chartRef.current) {
        chartRef.current.destroy();
        chartRef.current = null;
      }
    };
  }, []);

  const legende = [
    { label: "Rendement_A04", color: "#ffc000", y: 32, thin: true },
    { label: "Rendement_A07", color: "#0070c0", y: 95 },
    { label: "Rendement_A10", color: "#ff0000", y: 159 },
  ];

  return (
    <div
      style={{
        position: "absolute",
        left: 0,
        top: 0,
        width: 2216,
        height: 1102,
        background: "#ffffff",
        overflow: "hidden",
        fontFamily: FONT,
      }}
    >
      <canvas ref={canvasRef} width={2216} height={1102} style={{ position: "absolute", left: 0, top: 0 }} />

      {/* bandeau titre */}
      <div
        style={{
          position: "absolute",
          left: 0,
          top: 0,
          width: 2216,
          height: 54,
          background: "#7ec87b",
          color: "#000000",
          fontWeight: 700,
          fontSize: 29,
          lineHeight: "54px",
          textAlign: "center",
          whiteSpace: "nowrap",
        }}
      >
        {TITRE}
      </div>
      <div style={{ position: "absolute", left: 0, top: 57, width: 2214, height: 1041, border: "1px solid #d9d9d9" }} />

      {/* sous-titre posé sur le haut de la zone de tracé */}
      <div style={{ position: "absolute", left: 298, top: 80, width: 1607, height: 90, background: "#ffffff" }} />
      <div
        style={{
          position: "absolute",
          left: 95,
          top: 82,
          width: 2000,
          textAlign: "center",
          color: GRIS,
          fontSize: 24,
          fontWeight: 600,
          lineHeight: "43px",
          whiteSpace: "nowrap",
        }}
      >
        <div>{SOUS_TITRE_1}</div>
        <div>{SOUS_TITRE_2}</div>
      </div>

      {/* légende */}
      <div style={{ position: "absolute", left: 1808, top: 193, width: 335, height: 257, background: "#ffffff" }}>
        {legende.map((e) => (
          <div key={e.label}>
            <div style={{ position: "absolute", left: 57, top: e.y - 5.5 }}>
              <Croix color={e.color} thin={e.thin} />
            </div>
            <div
              style={{
                position: "absolute",
                left: 92,
                top: e.y - 19,
                height: 38,
                lineHeight: "38px",
                fontSize: 27,
                fontWeight: 600,
                color: GRIS,
                whiteSpace: "nowrap",
              }}
            >
              {e.label}
            </div>
          </div>
        ))}
        <div style={{ position: "absolute", left: 39, top: 222, width: 50, height: 6, background: "#000000" }} />
        <div
          style={{
            position: "absolute",
            left: 90,
            top: 206,
            height: 38,
            lineHeight: "38px",
            fontSize: 27,
            fontWeight: 600,
            color: GRIS,
            whiteSpace: "nowrap",
          }}
        >
          0,0%
        </div>
      </div>
    </div>
  );
}

export default App;
